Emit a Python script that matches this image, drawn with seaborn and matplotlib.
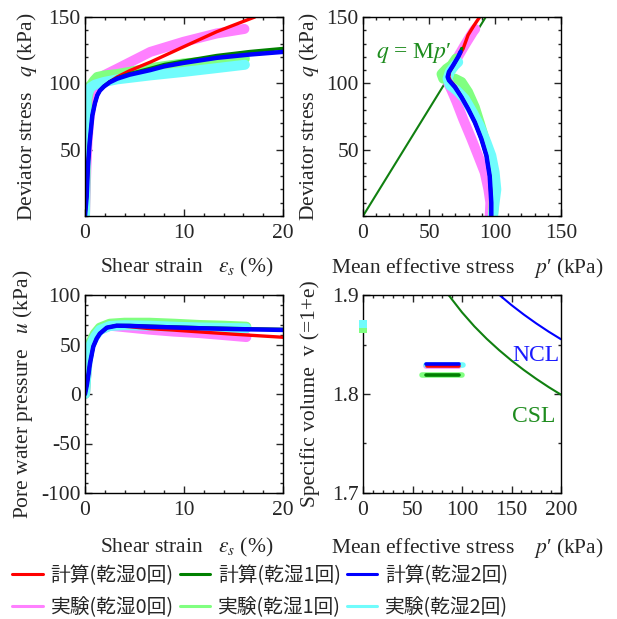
import numpy as np
import pandas as pd
import matplotlib
matplotlib.use("Agg")
import matplotlib.pyplot as plt
import seaborn as sns
from matplotlib.lines import Line2D
from matplotlib.ticker import MultipleLocator, FormatStrFormatter
from matplotlib.font_manager import FontProperties

# ======================================================
# DATA
# ======================================================
# q - shear strain : calculation
eps_c0 = [0, 0.17, 0.3, 0.47, 0.74, 1.0, 1.24, 1.5, 1.9, 2.5, 3.25, 4.5, 6.6, 9.95, 13.3, 17.15]
q_c0 = [0, 15, 38, 55.5, 75.8, 85, 91, 94.5, 97.5, 101.2, 104.8, 109.5, 116, 127.5, 138.9, 150]
eps_c12 = [0, 0.17, 0.3, 0.47, 0.74, 1.0, 1.24, 1.5, 1.9, 2.5, 3.25, 4.5, 6.6, 8, 9.95, 13.3, 16.65, 20]
q_c1 = [0, 15, 38, 55.5, 75.8, 85, 91, 94.7, 97.8, 101.2, 104, 107.3, 111.3, 114.2, 116.8, 121, 124, 126.3]
q_c2 = [0, 15, 38, 55.5, 75.8, 85, 91, 94.5, 97.5, 100.8, 103.5, 106.5, 110, 112.8, 115.4, 119.2, 121.7, 123.7]

# q - shear strain : experiment
eps_e0 = [0, 0.03, 0.08, 0.15, 0.25, 0.4, 0.6, 0.9, 1.3, 1.9, 3.25, 6.6, 9.95, 13.3, 16.1]
q_e0 = [0, 10, 22, 38, 55, 70, 82, 92, 100, 106, 111, 123.7, 131.3, 137.6, 141]
eps_e1 = [0, 0.03, 0.08, 0.15, 0.23, 0.4, 0.57, 0.9, 1.24, 2, 3.25, 6.6, 9.95, 13.3, 16.15]
q_e1 = [0, 20, 45, 70, 88, 95, 98.5, 102, 104.8, 106, 107, 111.5, 115, 117, 118.7]
eps_e2 = [0, 0.03, 0.07, 0.12, 0.17, 0.3, 0.57, 1.0, 1.9, 3.25, 6.6, 9.95, 13.3, 16.15]
q_e2 = [0, 25, 55, 75, 88, 93, 97, 99, 101, 103, 106, 108.6, 111.5, 114]

# effective stress paths : calculation
p_c0 = [97.2, 97.2, 96, 93.5, 89.7, 84.7, 79.6, 74.8, 70.2, 66, 65, 65.6, 68.5, 72.2, 75.8, 79.6, 84, 88.4]
qp_c0 = [0, 10, 30, 45.5, 58, 70.7, 80.8, 89.6, 97.2, 102.3, 104.8, 108.6, 113.6, 120, 126, 136.4, 143.5, 150]
p_c1 = [97.2, 97.2, 96, 93.5, 89.7, 84.7, 79.6, 74.6, 69.6, 65.1, 64.1, 65.1, 68.3, 72.1, 74.8]
qp_c1 = [0, 10, 30, 45.5, 58, 70.7, 80.8, 89.6, 97.2, 102.3, 104.8, 108.6, 113.6, 120, 126.3]
p_c2 = [97.2, 97.2, 96, 93.5, 89.7, 84.7, 79.6, 74.6, 69.6, 65.1, 64.1, 65.1, 68.3, 72.1, 73.9]
qp_c2 = [0, 10, 30, 45.5, 58, 70.7, 80.8, 89.6, 97.2, 102.3, 104.8, 108.6, 113.6, 120, 123.7]

# effective stress paths : experiment
p_e0 = [96, 96.5, 95, 92.2, 87.2, 82.2, 75.9, 70.9, 67.1, 64.1, 64.6, 69.6, 77.1, 83.4, 85]
qp_e0 = [0, 10, 20, 32.8, 45.5, 58, 73, 85.9, 94.7, 101, 106, 116, 128.8, 138.9, 141]
p_e1 = [98.5, 99, 99.5, 97.5, 93, 88.5, 84.7, 79.6, 74.6, 69.6, 60.8, 59.5, 63.3, 67, 70.5]
qp_e1 = [0, 10, 25, 40, 55, 70, 82, 93.4, 101, 103.5, 103.5, 107, 111, 113.6, 118.7]
p_e2 = [98.5, 99.7, 101, 99.7, 97.2, 93.5, 88.4, 83.2, 77.1, 70.9, 65.8, 64.1, 65.8, 69.6, 72.1]
qp_e2 = [0, 10, 20, 33, 45.5, 55.5, 68, 78, 88.4, 94.7, 98.5, 103.5, 108.6, 113.6, 116]

# critical state line q = Mp'
p_cs = [0, 93]
q_cs = [0, 150]

# pore water pressure - shear strain
eps_u = [0, 0.2, 0.35, 0.5, 0.84, 1.18, 1.5, 2.2, 3.2, 4.5, 6.55, 9, 11.6, 15, 20]
u_c0 = [0, 10, 20, 31, 48, 56, 61, 67, 69, 68, 66, 64.5, 62.7, 60.4, 57.3]
u_c1 = [0, 10, 20, 31, 48, 56, 61, 67, 69.2, 69.2, 68.5, 67.8, 67, 66.2, 65.3]
u_c2 = [0, 10, 20, 31, 48, 56, 61, 67, 69, 68.8, 68, 67.2, 66.4, 65.6, 64.7]
eps_ue = [0, 0.1, 0.24, 0.5, 1, 1.5, 2.5, 4, 6.5, 9, 11.6, 14, 16.3]
u_e0 = [0, 15, 32, 49, 59, 65, 69, 67.5, 65, 63, 61.5, 59.5, 57.5]
u_e1 = [0, 16, 34, 51, 61, 67, 71, 72, 72, 71, 69.7, 69, 68]
u_e2 = [0, 14, 31, 48, 58, 64.7, 68.7, 69.5, 69, 68, 67.2, 66.8, 66.4]

# specific volume
v_c0, v_c1, v_c2 = 1.8283, 1.8193, 1.8298
v_e0, v_e1, v_e2 = 1.8285, 1.8193, 1.8295
p_init = [0, 0, 0]
v_init = [1.869, 1.866, 1.871]
p_ncl = [137.8, 150, 162.5, 175, 187.5, 200]
v_ncl = [1.9, 1.8898, 1.8802, 1.8713, 1.8630, 1.8553]
p_csl = [86.4, 100, 112.5, 125, 137.5, 150, 162.5, 175, 187.5, 200]
v_csl = [1.9, 1.8825, 1.8683, 1.8557, 1.8443, 1.8338, 1.8242, 1.8153, 1.8070, 1.7993]

labels_calc = ["計算(乾湿0回)", "計算(乾湿1回)", "計算(乾湿2回)"]
labels_exp = ["実験(乾湿0回)", "実験(乾湿1回)", "実験(乾湿2回)"]
col_calc = ["#ff0000", "#008000", "#0000ff"]
col_exp = ["#ff80ff", "#80ff80", "#70fcfc"]
green_txt = "#1e8c1e"

# ======================================================
# STYLE
# ======================================================
sns.set_style("ticks")
plt.rcParams["font.family"] = ["Liberation Serif", "DejaVu Serif"]
plt.rcParams["mathtext.fontset"] = "stix"
plt.rcParams["axes.unicode_minus"] = False
FS = 15.5

fig = plt.figure(figsize=(6.17, 6.19), dpi=100)
W, H = 617, 619
def pos(l, t, w, h):
    return [l / W, 1 - (t + h) / H, w / W, h / H]

ax1 = fig.add_axes(pos(85, 17, 198, 199))
ax2 = fig.add_axes(pos(363, 17, 198, 199))
ax3 = fig.add_axes(pos(85, 295, 198, 198))
ax4 = fig.add_axes(pos(363, 295, 198, 198))

def line(ax, x, y, color, lw):
    sns.lineplot(x=x, y=y, ax=ax, color=color, lw=lw, sort=False,
                 estimator=None, solid_capstyle="round", legend=False)

LW_E = 7.2

# ---- 1. q vs shear strain
for x, y, c in [(eps_e0, q_e0, col_exp[0]), (eps_e1, q_e1, col_exp[1]), (eps_e2, q_e2, col_exp[2])]:
    line(ax1, x, y, c, LW_E)
line(ax1, eps_c0, q_c0, col_calc[0], 2.4)
line(ax1, eps_c12, q_c1, col_calc[1], 2.4)
line(ax1, eps_c12, q_c2, col_calc[2], 3.2)

# ---- 2. stress paths
line(ax2, p_cs, q_cs, "#108010", 1.5)
for x, y, c in [(p_e0, qp_e0, col_exp[0]), (p_e1, qp_e1, col_exp[1]), (p_e2, qp_e2, col_exp[2])]:
    line(ax2, x, y, c, LW_E)
line(ax2, p_c0, qp_c0, col_calc[0], 2.4)
line(ax2, p_c1, qp_c1, col_calc[1], 2.4)
line(ax2, p_c2, qp_c2, col_calc[2], 3.2)
ax2.text(10, 123, "$q$ = M$p$′", color=green_txt, fontsize=17, ha="left", va="center")

# ---- 3. pore water pressure
for y, c in [(u_e0, col_exp[0]), (u_e1, col_exp[1]), (u_e2, col_exp[2])]:
    line(ax3, eps_ue, y, c, LW_E)
line(ax3, eps_u, u_c0, col_calc[0], 2.4)
line(ax3, eps_u, u_c1, col_calc[1], 2.4)
line(ax3, eps_u, u_c2, col_calc[2], 3.2)

# ---- 4. specific volume
for p, v, c in [(p_e0, v_e0, col_exp[0]), (p_e1, v_e1, col_exp[1]), (p_e2, v_e2, col_exp[2])]:
    line(ax4, [min(p), max(p)], [v, v], c, 4.0)
for p, v, c in [(p_c0, v_c0, col_calc[0]), (p_c1, v_c1, col_calc[1]), (p_c2, v_c2, col_calc[2])]:
    line(ax4, [min(p), max(p)], [v, v], c, 2.6)
init = pd.DataFrame({"p": p_init, "v": v_init, "c": col_exp})
for _, r in init.iterrows():
    ax4.scatter(r["p"], r["v"], marker="s", s=40, color=r["c"], clip_on=False, zorder=3, lw=0)
line(ax4, p_ncl, v_ncl, "#0000ff", 1.5)
line(ax4, p_csl, v_csl, "#108010", 1.5)
ax4.text(151, 1.839, "NCL", color="#1a1aff", fontsize=17, ha="left", va="center")
ax4.text(151, 1.777, "CSL", color=green_txt, fontsize=17, ha="left", va="center")

# ======================================================
# AXES
# ======================================================
def setup(ax, xlim, ylim, xt, yt, xmin, ymin):
    ax.set_xlim(*xlim)
    ax.set_ylim(*ylim)
    ax.set_xticks(xt)
    ax.set_yticks(yt)
    ax.xaxis.set_minor_locator(MultipleLocator(xmin))
    ax.yaxis.set_minor_locator(MultipleLocator(ymin))
    ax.tick_params(which="both", direction="in", top=True, right=True, labelsize=FS, width=1)
    ax.tick_params(which="major", length=5)
    ax.tick_params(which="minor", length=2.5)
    ax.tick_params(axis="x", pad=6)
    ax.tick_params(axis="y", pad=3)
    for s in ax.spines.values():
        s.set_linewidth(1)
        s.set_color("black")

setup(ax1, (0, 20), (0, 150), [0, 10, 20], [50, 100, 150], 2, 10)
setup(ax2, (0, 150), (0, 150), [0, 50, 100, 150], [50, 100, 150], 10, 10)
setup(ax3, (0, 20), (-100, 100), [0, 10, 20], [-100, -50, 0, 50, 100], 2, 10)
setup(ax4, (0, 200), (1.7, 1.9), [0, 50, 100, 150, 200], [1.7, 1.8, 1.9], 10, 0.05)
ax4.yaxis.set_major_formatter(FormatStrFormatter("%.1f"))

xl_eps = r"Shear strain   $\varepsilon_s$ (%)"
xl_p = "Mean effective stress    $p$′ (kPa)"
ax1.set_xlabel(xl_eps, fontsize=FS)
ax3.set_xlabel(xl_eps, fontsize=FS)
ax2.set_xlabel(xl_p, fontsize=FS)
ax4.set_xlabel(xl_p, fontsize=FS)
ax1.set_ylabel("Deviator stress   $q$ (kPa)", fontsize=FS)
ax2.set_ylabel("Deviator stress   $q$ (kPa)", fontsize=FS)
ax3.set_ylabel("Pore water pressure   $u$ (kPa)", fontsize=FS)
ax4.set_ylabel("Specific volume  v (=1+e)", fontsize=FS)

ax1.xaxis.set_label_coords(0.513, -0.20)
ax3.xaxis.set_label_coords(0.513, -0.215)
ax2.xaxis.set_label_coords(0.525, -0.20)
ax4.xaxis.set_label_coords(0.525, -0.215)
ax1.yaxis.set_label_coords(-0.232, 0.5)
ax3.yaxis.set_label_coords(-0.252, 0.5)
ax2.yaxis.set_label_coords(-0.21, 0.5)
ax4.yaxis.set_label_coords(-0.218, 0.5)

# ======================================================
# LEGEND
# ======================================================
handles, labels = [], []
for i in range(3):
    handles.append(Line2D([], [], color=col_calc[i], lw=2.2))
    labels.append(labels_calc[i])
    handles.append(Line2D([], [], color=col_exp[i], lw=2.2))
    labels.append(labels_exp[i])
fig.legend(handles, labels, ncol=3, loc="upper left", bbox_to_anchor=(12 / W, 1 - 565 / H),
           frameon=False, borderpad=0, borderaxespad=0, handlelength=1.55, handletextpad=0.4,
           columnspacing=0.3, labelspacing=0.56,
           prop=FontProperties(family="Noto Sans CJK JP", size=14.2))

fig.savefig("out.png", dpi=100)
